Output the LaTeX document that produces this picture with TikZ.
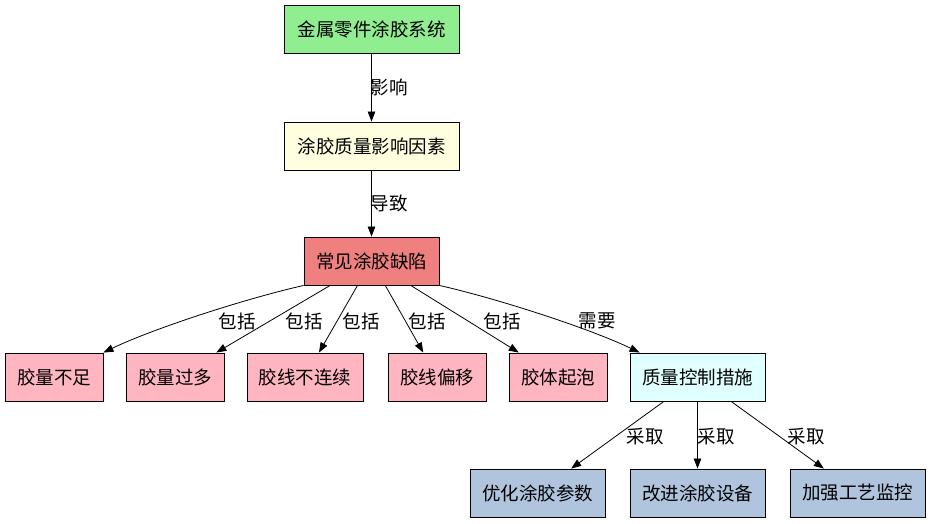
\documentclass[tikz,border=0pt]{standalone}
\usepackage{fontspec}
\setmainfont{Noto Sans CJK SC}
\usetikzlibrary{arrows.meta}
\definecolor{lgreen}{HTML}{90EE90}
\definecolor{lyellow}{HTML}{FFFFE0}
\definecolor{lcoral}{HTML}{F08080}
\definecolor{lpink}{HTML}{FFB6C1}
\definecolor{lcyan}{HTML}{E0FFFF}
\definecolor{lsteel}{HTML}{B0C4DE}
\begin{document}
\begin{tikzpicture}[x=1pt,y=-1pt,
  box/.style={draw=black, line width=0.9pt, minimum height=48pt, inner sep=0pt,
    font=\fontsize{18.5}{21}\selectfont},
  wide/.style={box, minimum width=175pt},
  mid/.style={box, minimum width=135pt},
  narrow/.style={box, minimum width=98pt},
  edge/.style={draw=black, line width=0.8pt, -{Triangle[length=10pt,width=7.5pt]}},
  lbl/.style={inner sep=0pt, font=\fontsize{18.5}{21}\selectfont}
]
\useasboundingbox (0,0) rectangle (931,523);
\fill[white] (0,0) rectangle (931,523);

\node[wide, fill=lgreen] (n1) at (371.5,29) {金属零件涂胶系统};
\node[wide, fill=lyellow] (n2) at (371.5,146) {涂胶质量影响因素};
\node[mid, fill=lcoral] (n3) at (371.5,261) {常见涂胶缺陷};

\node[narrow, fill=lpink] (a) at (54,377) {胶量不足};
\node[narrow, fill=lpink] (b) at (175,377) {胶量过多};
\node[box, minimum width=116pt, fill=lpink] (c) at (305,377) {胶线不连续};
\node[narrow, fill=lpink] (d) at (437,377) {胶线偏移};
\node[narrow, fill=lpink] (e) at (558,377) {胶体起泡};
\node[mid, fill=lcyan] (f) at (697.5,377) {质量控制措施};

\node[mid, fill=lsteel] (g) at (537.5,493) {优化涂胶参数};
\node[mid, fill=lsteel] (h) at (697.5,493) {改进涂胶设备};
\node[mid, fill=lsteel] (i) at (857.5,493) {加强工艺监控};

\draw[edge] (n1) -- (n2);
\draw[edge] (n2) -- (n3);
\draw[edge] (n3.south west) .. controls (240,300) and (150,330) .. (a.north east);
\draw[edge] (n3) -- (b);
\draw[edge] (n3) -- (c);
\draw[edge] (n3) -- (d);
\draw[edge] (n3) -- (e);
\draw[edge] (n3.south east) .. controls (503,300) and (593,330) .. ([xshift=10pt]f.north west);
\draw[edge] (f) -- (g);
\draw[edge] (f) -- (h);
\draw[edge] (f) -- (i);

\node[lbl] (l1) at (389,87) {影响};
\node[lbl] (l2) at (389,203) {导致};
\node[lbl] (l3) at (237,321) {包括};
\node[lbl] (l4) at (304,321) {包括};
\node[lbl] (l5) at (361,321) {包括};
\node[lbl] (l6) at (427,321) {包括};
\node[lbl] (l7) at (502,321) {包括};
\node[lbl] (l8) at (597,321) {需要};
\node[lbl] (l9) at (645,437) {采取};
\node[lbl] (l10) at (716,437) {采取};
\node[lbl] (l11) at (806,437) {采取};
\end{tikzpicture}
\end{document}
